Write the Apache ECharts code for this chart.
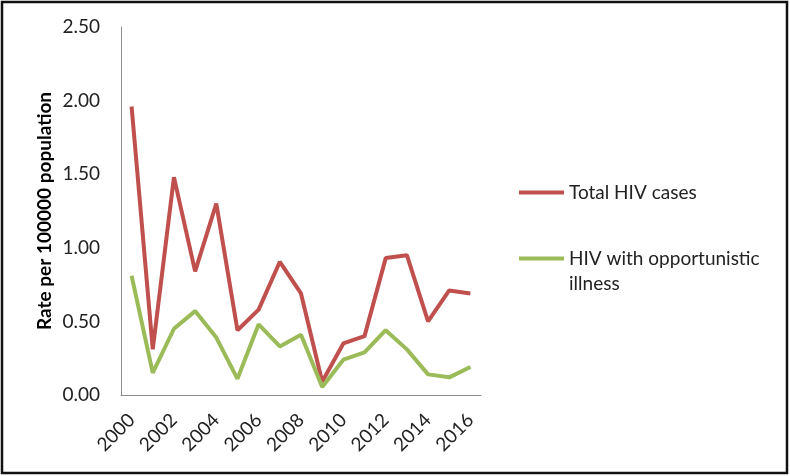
<!DOCTYPE html>
<html><head><meta charset="utf-8">
<script src="https://cdn.jsdelivr.net/npm/echarts@6/dist/echarts.min.js"></script>
<style>html,body{margin:0;padding:0;background:#fff}#c{width:790px;height:476px}</style>
</head><body><div id="c"></div>
<script>
const years = ['2000','2001','2002','2003','2004','2005','2006','2007','2008','2009','2010','2011','2012','2013','2014','2015','2016'];
const totalHIV = [1.96,0.31,1.48,0.84,1.30,0.44,0.58,0.905,0.69,0.09,0.35,0.40,0.93,0.95,0.50,0.71,0.69];
const hivOI = [0.81,0.15,0.45,0.57,0.39,0.11,0.48,0.33,0.41,0.055,0.24,0.29,0.44,0.31,0.14,0.12,0.19];
const yTicks = [0,0.5,1,1.5,2,2.5];
const nameTotal = 'Total HIV cases';
const nameOI = 'HIV with opportunistic\nillness';

const FONT = 'Lato';
const chart = echarts.init(document.getElementById('c'));
chart.setOption({
  animation:false,
  backgroundColor:'#fff',
  graphic:[{type:'rect',shape:{x:2,y:2,width:785,height:471},style:{fill:'none',stroke:'#111',lineWidth:2.5},silent:true}],
  grid:{left:121,right:309,top:27,bottom:81,containLabel:false},
  legend:[
    {data:[nameTotal],left:514,top:175,orient:'vertical',itemWidth:45,itemHeight:4,icon:'rect',
     textStyle:{fontFamily:FONT,fontSize:19,color:'#222',lineHeight:25}},
    {data:[nameOI],left:514,top:216,orient:'vertical',itemWidth:45,itemHeight:4,icon:'rect',
     formatter:n=>' \n'+n,
     textStyle:{fontFamily:FONT,fontSize:19,color:'#222',lineHeight:25}}
  ],
  xAxis:{type:'category',data:years,boundaryGap:true,
    axisLine:{lineStyle:{color:'#8c8c8c',width:1}},axisTick:{show:false},
    axisLabel:{interval:1,rotate:45,margin:22,fontFamily:FONT,fontSize:19,color:'#222'}},
  yAxis:{type:'value',min:0,max:2.5,interval:0.5,
    name:'Rate per 100000 population',nameLocation:'middle',nameGap:67,
    nameTextStyle:{fontFamily:FONT,fontSize:19,fontWeight:'bold',color:'#000'},
    axisLine:{show:true,lineStyle:{color:'#8c8c8c',width:1}},axisTick:{show:false},splitLine:{show:false},
    axisLabel:{margin:21,fontFamily:FONT,fontSize:19,color:'#222',formatter:v=>v.toFixed(2)}},
  series:[
    {name:nameTotal,type:'line',data:totalHIV,symbol:'none',lineStyle:{color:'#C0504D',width:4},itemStyle:{color:'#C0504D'}},
    {name:nameOI,type:'line',data:hivOI,symbol:'none',lineStyle:{color:'#9BBB59',width:4},itemStyle:{color:'#9BBB59'}}
  ]
});
</script></body></html>
